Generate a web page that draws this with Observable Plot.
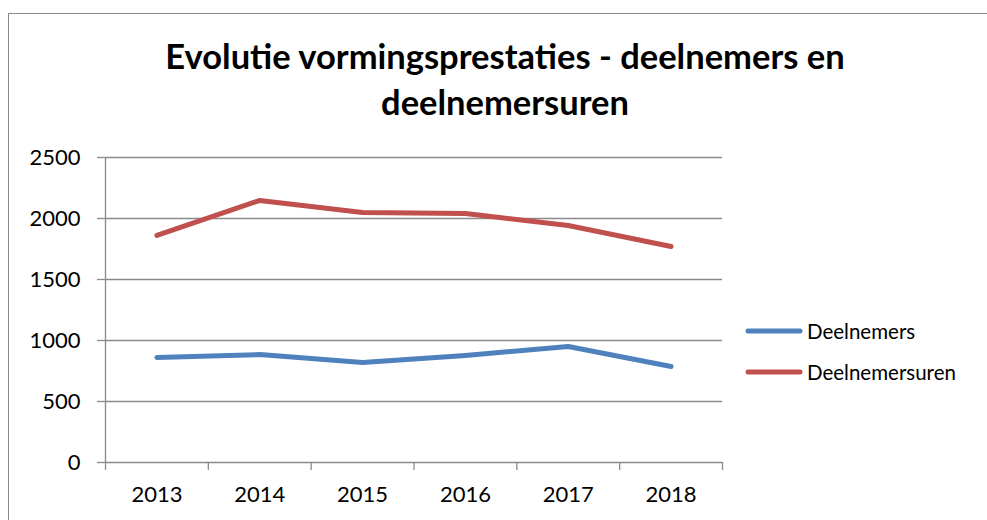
<!DOCTYPE html>
<html>
<head>
<meta charset="utf-8">
<script src="https://cdn.jsdelivr.net/npm/d3@7"></script>
<script src="https://cdn.jsdelivr.net/npm/@observablehq/plot@0.6"></script>
<style>
  html, body { margin: 0; padding: 0; background: #fff; }
  #wrap { position: relative; width: 987px; height: 520px; overflow: hidden; font-family: Lato, "Open Sans", sans-serif; }
  #frame { position: absolute; left: 8px; top: 13px; width: 1000px; height: 600px; border: 1px solid #8a8a8a; box-sizing: border-box; }
  #title { position: absolute; left: 0; width: 1010px; top: 33px; text-align: center; font-weight: bold; font-size: 34.5px; line-height: 46px; color: #000; }
  #chart { position: absolute; left: 0; top: 0; }
  #legend { position: absolute; left: 745px; top: 310px; font-size: 20.5px; color: #000; }
  .item { display: flex; align-items: center; height: 41px; }
  .item svg { margin-right: 4px; }
</style>
</head>
<body>
<div id="wrap">
  <div id="frame"></div>
  <div id="title">Evolutie vormingsprestaties - deelnemers en<br>deelnemersuren</div>
  <div id="chart"></div>
  <div id="legend"></div>
</div>
<script>
const years = [2013, 2014, 2015, 2016, 2017, 2018];
const deelnemers = [861, 885, 820, 877, 951, 787];
const deelnemersuren = [1861, 2148, 2049, 2041, 1943, 1770];
const seriesNames = ["Deelnemers", "Deelnemersuren"];
const seriesColors = ["#4F81BD", "#C0504D"];
const yTicks = [0, 500, 1000, 1500, 2000, 2500];

const rows = [];
years.forEach((yr, i) => {
  rows.push({year: yr, value: deelnemers[i], series: seriesNames[0]});
  rows.push({year: yr, value: deelnemersuren[i], series: seriesNames[1]});
});
const bounds = [years[0] - 0.5, ...years.map(y => y + 0.5)];

const chart = Plot.plot({
  width: 987,
  height: 520,
  marginLeft: 105,
  marginRight: 265,
  marginTop: 157,
  marginBottom: 58,
  style: {fontFamily: "Lato, 'Open Sans', sans-serif", fontSize: "22px", color: "#000", background: "transparent", overflow: "visible"},
  x: {domain: [bounds[0], bounds[bounds.length - 1]]},
  y: {domain: [0, 2500]},
  color: {domain: seriesNames, range: seriesColors},
  marks: [
    Plot.ruleY(yTicks, {x1: bounds[0], x2: bounds[bounds.length - 1], stroke: "#8a8a8a", strokeWidth: 1.3}),
    Plot.axisY(yTicks, {tickSize: 8, tickPadding: 17, tickFormat: d => String(d), stroke: "#8a8a8a", strokeWidth: 1.3, fill: "#000", fontSize: 22, label: null}),
    Plot.ruleX([bounds[0]], {y1: 0, y2: 2500, stroke: "#8a8a8a", strokeWidth: 1.3}),
    Plot.axisX(bounds, {tickSize: 8, tickFormat: () => "", stroke: "#8a8a8a", strokeWidth: 1.3, label: null}),
    Plot.axisX(years, {tickSize: 0, tickPadding: 24, tickFormat: d => String(d), fill: "#000", fontSize: 22, label: null}),
    Plot.line(rows, {x: "year", y: "value", z: "series", stroke: "series", strokeWidth: 5, strokeLinecap: "round", strokeLinejoin: "round"})
  ]
});
document.getElementById("chart").appendChild(chart);

const legend = document.getElementById("legend");
seriesNames.forEach((name, i) => {
  const div = document.createElement("div");
  div.className = "item";
  div.innerHTML = `<svg width="58" height="10"><line x1="3" y1="5" x2="55" y2="5" stroke="${seriesColors[i]}" stroke-width="5" stroke-linecap="round"/></svg><span>${name}</span>`;
  legend.appendChild(div);
});
</script>
</body>
</html>
